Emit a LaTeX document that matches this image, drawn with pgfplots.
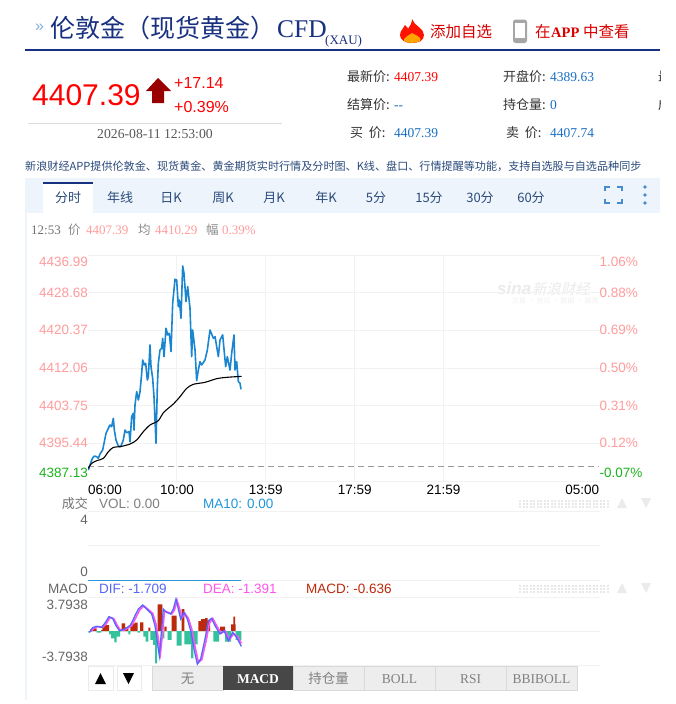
\documentclass[border=0pt]{standalone}
\usepackage{fontspec}
\usepackage{pgfplots}
\pgfplotsset{compat=1.18}
\setmainfont{Liberation Sans}
\newfontfamily\cjk{Noto Sans CJK SC}
\newfontfamily\ser{Liberation Serif}
\newcommand\fs[1]{\fontsize{#1}{#1}\selectfont}
\definecolor{navy}{HTML}{17307F}
\definecolor{gridc}{HTML}{F2F2F2}
\definecolor{sal}{HTML}{FF9C9C}
\definecolor{grn}{HTML}{1DB31D}
\definecolor{valb}{HTML}{1A6FC4}
\definecolor{tabt}{HTML}{2A4A7A}
\definecolor{tabbg}{HTML}{EEF4FB}
\definecolor{pricec}{HTML}{1A86D0}
\definecolor{barr}{HTML}{BB2A0C}
\definecolor{barg}{HTML}{33C29B}
\definecolor{difc}{HTML}{5566FF}
\definecolor{deac}{HTML}{FF55EE}
\newcommand\up[2]{\raisebox{#1}[0pt][0pt]{#2}}
\pgfplotsset{common/.style={
  scale only axis, width=511.5pt, xmin=0, xmax=1381, anchor=south west,
  axis line style={draw=none}, major tick length=0pt, tick style={draw=none},
  grid style={line width=0.9pt, gridc},
  yticklabel style={inner sep=0pt, font=\fs{13.5}},
  xticklabel style={inner sep=0pt, font=\fs{13.5}, yshift=-4pt},
  ymajorgrids}}
\begin{document}
\begin{tikzpicture}
\useasboundingbox (0pt,0pt) rectangle (675pt,-704pt);
\fill[white] (0pt,0pt) rectangle (675pt,-704pt);
\begin{scope}[x=1pt,y=-1pt]
% header
\fill[navy] (25,49) rectangle (660,51.2);
\node[anchor=base west,inner sep=0,text=valb!55,font=\fs{16}] at (35,31) {»};
\node[anchor=base west,inner sep=0,text=navy,font=\cjk\fs{25}] at (50,37) {伦敦金（现货黄金）};
\node[anchor=base west,inner sep=0,text=navy,font=\ser\fs{25.5}] at (277,37) {CFD};
\node[anchor=base west,inner sep=0,text=navy,font=\ser\fs{13}] at (325,44) {(XAU)};
% flame
\fill[red!85!orange] (412,19) .. controls (414,26) and (424,28) .. (424,35) .. controls (424,41) and (418,43) .. (412,43) .. controls (405,43) and (400,40) .. (400,35) .. controls (400,30) and (404,29) .. (405,25) .. controls (407,27) and (408,28) .. (408,29) .. controls (410,26) and (412,23) .. (412,19) -- cycle;
\fill[orange!70!yellow] (412,33) .. controls (418,36) and (422,38) .. (420,41) .. controls (416,43.5) and (408,43.5) .. (404,41) .. controls (403,38) and (408,36) .. (412,33) -- cycle;
\node[anchor=base west,inner sep=0,text=red!85!black,font=\cjk\fs{15.5}] at (430,37) {添加自选};
\fill[gray!70,rounded corners=2.5pt] (513,19.5) rectangle (527,43);
\fill[white] (515,23) rectangle (525,38);
\node[anchor=base west,inner sep=0,text=red!85!black,font=\cjk\fs{15.5}] at (535,37) {在};
\node[anchor=base west,inner sep=0,text=red!85!black,font=\ser\bfseries\fs{14.5}] at (551,37) {APP};
\node[anchor=base west,inner sep=0,text=red!85!black,font=\cjk\fs{15.5}] at (583,37) {中查看};
% quote
\node[anchor=base west,inner sep=0,text=red,font=\fs{30}] at (32,105) {4407.39};
\fill[red!60!black] (158,78) -- (171,91) -- (164,91) -- (164,103) -- (152,103) -- (152,91) -- (146,91) -- cycle;
\node[anchor=base west,inner sep=0,text=red,font=\fs{16}] at (174,88) {+17.14};
\node[anchor=base west,inner sep=0,text=red,font=\fs{16}] at (174,112) {+0.39\%};
\fill[tabbg!80!gray] (28,122.5) rectangle (282,124);
\node[anchor=base west,inner sep=0,text=black!65,font=\ser\fs{13.7}] at (97,138) {2026-08-11 12:53:00};
% stats
\newcommand\stat[5]{\node[anchor=base west,inner sep=0,font=\cjk\fs{13},text=black!80] at (#1,#2) {#3};
  \node[anchor=base west,inner sep=0,font=\ser\fs{13.5},text=#5] at (#1+47,#2) {#4};}
\stat{347}{81}{最新价:}{4407.39}{red}
\stat{503}{81}{开盘价:}{4389.63}{valb}
\stat{347}{109}{结算价:}{{-}{-}}{valb}
\stat{503}{109}{持仓量:}{0}{valb}
\stat{347}{137}{\ 买\ \ 价:}{4407.39}{valb}
\stat{503}{137}{\ 卖\ \ 价:}{4407.74}{valb}
\begin{scope}
\clip (657.5,60) rectangle (660.5,115);
\node[anchor=base west,inner sep=0,font=\cjk\fs{13},text=black!80] at (658,81) {最};
\node[anchor=base west,inner sep=0,font=\cjk\fs{13},text=black!80] at (658,109) {成};
\end{scope}
\node[anchor=base west,inner sep=0,text=tabt,font=\cjk\fs{11.1}] at (25,170) {新浪财经APP提供伦敦金、现货黄金、黄金期货实时行情及分时图、K线、盘口、行情提醒等功能，支持自选股与自选品种同步};
% tabs
\fill[tabbg] (25,178) rectangle (660,213);
\fill[white] (43,182) rectangle (93,214);
\fill[navy] (43,181.5) rectangle (93,183.5);
\fill[tabbg] (25,213) rectangle (26.5,700);
\foreach \x/\t in {68/分时,120/年线,171/日K,223/周K,274/月K,326/年K,376/5分,429/15分,480/30分,531/60分}
  \node[anchor=base,inner sep=0,text=tabt,font=\cjk\fs{13}] at (\x,202) {\t};
\draw[line width=2pt,valb!80] (605,191) -- (605,187) -- (610,187) (617,187) -- (622,187) -- (622,191) (622,199) -- (622,203) -- (617,203) (610,203) -- (605,203) -- (605,199);
\foreach \y in {187,195,203} \fill[valb!80] (645,\y) circle (1.8);
% info line
\node[anchor=base west,inner sep=0,text=black!55,font=\ser\fs{13}] at (31,234) {12:53};
\foreach \x/\t in {68/价,138/均,206/幅}
  \node[anchor=base west,inner sep=0,text=black!45,font=\cjk\fs{12.5}] at (\x,234) {\t};
\foreach \x/\t in {86/4407.39,155/4410.29,222/0.39\%}
  \node[anchor=base west,inner sep=0,text=sal,font=\ser\fs{13}] at (\x,234) {\t};
% watermark
\node[anchor=base west,inner sep=0,text=black!8,font=\bfseries\itshape\fs{17}] at (497,294) {sina};
\node[anchor=base west,inner sep=0,text=black!8,font=\cjk\fs{14.5},xslant=0.2] at (532,294) {新浪财经};
\node[anchor=base west,inner sep=0,text=black!6,font=\cjk\fs{7}] at (512,303) {交易 · 资讯 · 数据 · 服务};
% panel captions
\node[anchor=base east,inner sep=0,text=black!55,font=\cjk\fs{13}] at (88,508) {成交};
\node[anchor=base west,inner sep=0,text=black!50,font=\fs{13.5}] at (99,508) {VOL: 0.00};
\node[anchor=base west,inner sep=0,text=cyan!75!blue!90,font=\fs{13.5}] at (203,508) {MA10: 0.00};
\node[anchor=base east,inner sep=0,text=black!60,font=\fs{13.5}] at (88,593) {MACD};
\node[anchor=base west,inner sep=0,text=difc,font=\fs{13.5}] at (99,593) {DIF: -1.709};
\node[anchor=base west,inner sep=0,text=deac,font=\fs{13.5}] at (203,593) {DEA: -1.391};
\node[anchor=base west,inner sep=0,text=barr,font=\fs{13.5}] at (306,593) {MACD: -0.636};
% resize handles
\foreach \yy in {503,588} {
  \foreach \x in {519,522.5,...,607} {\fill[black!9] (\x,\yy-3.5) rectangle ++(2,2); \fill[black!9] (\x,\yy-.5) rectangle ++(2,2); \fill[black!9] (\x,\yy+2.5) rectangle ++(2,2);}
  \fill[black!8] (622,\yy-5) -- (627,\yy+5) -- (617,\yy+5) -- cycle;
  \fill[black!8] (646,\yy+5) -- (651,\yy-5) -- (641,\yy-5) -- cycle;
}
% bottom controls
\draw[black!8,fill=white] (88,666) rectangle (113,690) (117,666) rectangle (141,690);
\fill[black] (100.5,673) -- (106,684) -- (95,684) -- cycle;
\fill[black] (128.5,684) -- (134,673) -- (123,673) -- cycle;
\foreach \a/\b/\t in {152/223/无,293/364/持仓量}{
  \draw[black!15,fill=black!7,line width=1pt] (\a,666) rectangle (\b,690);
  \node[anchor=base,inner sep=0,text=black!50,font=\cjk\fs{13.5}] at ({(\a+\b)/2},683) {\t};}
\foreach \a/\b/\t in {364/435/BOLL,435/506/RSI,506/577/BBIBOLL}{
  \draw[black!15,fill=black!7,line width=1pt] (\a,666) rectangle (\b,690);
  \node[anchor=base,inner sep=0,text=black!50,font=\ser\fs{13.5}] at ({(\a+\b)/2},683) {\t};}
\fill[black!72] (223,666) rectangle (293,690);
\node[anchor=base,inner sep=0,text=white,font=\ser\bfseries\fs{13.5}] at (258,683) {MACD};
\end{scope}

% price axis
\begin{axis}[common, at={(88pt,-481pt)}, height=226pt,
  ymin=4387.13, ymax=4436.99,
  ytick={4387.13,4395.44,4403.75,4412.06,4420.37,4428.68,4436.99},
  yticklabels={\textcolor{grn}{\up{3.2pt}{4387.13}},4395.44,4403.75,4412.06,4420.37,4428.68,\up{-11.8pt}{4436.99}},
  yticklabel style={text=sal},
  xtick={240,480,720,960}, xticklabels={10:00,13:59,17:59,21:59}, xmajorgrids,
  extra x ticks={0,1380},
  extra x tick labels={\makebox[0pt][l]{06:00},\makebox[0pt][r]{05:00}},
  extra x tick style={grid=none}]
\addplot[black!40,dashed,line width=0.9pt,dash pattern=on 6pt off 4pt,forget plot] coordinates {(0,4390.25) (1380,4390.25)};
\addplot[pricec,line width=1.6pt,line join=round] coordinates {
(0.9,4389.55)(5.4,4390.65)(11.7,4392.12)(17.1,4392.64)(23.4,4392.49)(27.9,4392.12)(32.4,4393.08)(39.6,4393.96)(43.2,4395.43)(48.6,4397.64)(54.9,4398.75)(59.4,4399.48)(63.9,4399.11)(68.4,4400.95)(71.1,4398.38)(75.6,4396.17)(81.9,4394.84)(88.2,4394.70)(95.4,4396.17)(99.9,4398.38)(104.4,4397.79)(110.7,4398.01)(113.4,4395.80)(117.9,4401.32)(122.4,4402.06)(124.2,4398.38)(126.9,4403.90)(131.4,4406.84)(135.9,4405.00)(140.4,4406.84)(144.9,4410.89)(147.6,4413.83)(152.1,4412.73)(155.7,4413.09)(160.2,4409.41)(162.9,4410.15)(167.4,4417.14)(170.1,4412.36)(174.6,4409.78)(178.2,4405.73)(183.6,4395.43)(187.2,4407.94)(189.9,4413.09)(194.4,4416.04)(198.9,4416.40)(201.6,4418.61)(205.2,4414.56)(210.6,4420.82)(215.1,4419.35)(219.6,4419.71)(224.1,4415.67)(228.6,4426.34)(234.9,4431.63)(239.4,4431.49)(243.9,4425.60)(246.6,4427.07)(251.1,4423.03)(255.6,4434.58)(259.2,4432.96)(264.6,4426.71)(269.1,4430.02)(275.4,4425.23)(279.9,4414.56)(282.6,4420.45)(288.9,4416.04)(293.4,4409.27)(297.9,4411.62)(302.4,4413.46)(306.9,4412.73)(315.9,4413.83)(322.2,4416.04)(329.4,4420.45)(338.4,4418.61)(342.9,4418.98)(351.9,4414.56)(356.4,4418.24)(363.6,4419.35)(371.7,4412.36)(376.2,4414.56)(383.4,4411.62)(387.9,4415.30)(394.2,4419.35)(396.9,4411.62)(401.4,4413.46)(405.9,4409.05)(410.4,4408.68)(413.1,4407.35)};
\addplot[black,line width=1.1pt,smooth] coordinates {
(0.9,4389.92)(9.9,4391.02)(23.4,4391.61)(41.4,4392.12)(54.9,4393.59)(68.4,4394.55)(86.4,4394.70)(113.4,4395.29)(131.4,4396.17)(149.4,4398.01)(167.4,4399.48)(189.9,4400.44)(203.4,4402.20)(230.4,4404.12)(248.4,4405.73)(266.4,4407.57)(284.4,4408.46)(315.9,4408.90)(347.4,4409.71)(374.4,4410.00)(414.9,4410.22)};
\end{axis}
% percent axis
\begin{axis}[common, at={(88pt,-481pt)}, height=226pt,
  ymin=-0.0711, ymax=1.0646, xtick=\empty, ymajorgrids=false,
  yticklabel pos=right,
  ytick={-0.0711,0.1182,0.3075,0.4968,0.6861,0.8754,1.0646},
  yticklabels={\textcolor{grn}{\up{3.2pt}{-0.07\%}},0.12\%,0.31\%,0.50\%,0.69\%,0.88\%,\up{-11.8pt}{1.06\%}},
  yticklabel style={text=sal}]
\addplot[draw=none,forget plot] coordinates {(0,0)(1380,0)};
\end{axis}
% volume axis
\begin{axis}[common, at={(88pt,-580pt)}, height=68.5pt,
  ymin=0, ymax=4, ytick={0,2,4},
  yticklabels={\up{3.2pt}{0},,\up{-12.8pt}{4}},
  yticklabel style={text=black!60},
  xtick=\empty, clip=false]
\addplot[cyan!70!blue!85,line width=1pt] coordinates {(0,0)(414,0)};
\end{axis}
% MACD axis
\begin{axis}[common, at={(88pt,-665pt)}, height=68pt,
  ymin=-3.7938, ymax=3.7938, ytick={-3.7938,0,3.7938},
  yticklabels={\up{3.2pt}{-3.7938},,\up{-12.8pt}{3.7938}},
  yticklabel style={text=black!60},
  xtick=\empty]
\addplot[const plot,draw=none,fill=barr] coordinates {
(5.4,0.19)(11.7,0.30)(23.4,0)(35.1,0.11)(38.7,0.67)(56.7,0)(86.4,0.22)(90.9,0.86)(99.9,0.41)(108.9,0)(114.3,0.86)(126.9,0.93)(134.1,0)(140.4,0.97)(149.4,0)(162.9,0.37)(168.3,0)(188.1,2.97)(200.7,0)(206.1,0.48)(212.4,0)(225.9,1.71)(239.4,0)(252.9,2.45)(260.1,0)(297.9,1.10)(305.1,1.34)(315.9,1.45)(323.1,1.20)(329.4,0)(356.4,0.48)(369.9,0)(386.1,0.74)(392.4,1.60)(396.9,0.74)(398.7,0)} \closedcycle;
\addplot[const plot,draw=none,fill=barg] coordinates {
(0.9,-0.19)(5.4,0)(23.4,-0.19)(35.1,0)(56.7,-0.37)(62.1,-0.82)(71.1,-1.26)(77.4,-0.63)(86.4,0)(108.9,-0.37)(114.3,0)(134.1,-0.19)(140.4,0)(149.4,-0.63)(155.7,-1.19)(162.9,0)(168.3,-1.00)(175.5,-1.56)(180.9,-3.60)(186.3,-1.56)(188.1,0)(200.7,-0.82)(206.1,0)(215.1,-1.00)(225.9,0)(239.4,-1.63)(252.9,0)(260.1,-1.50)(278.1,-3.05)(284.4,-1.50)(296.1,0)(338.4,-1.19)(353.7,0)(369.9,-1.19)(386.1,0)(398.7,-1.00)(414,0)} \closedcycle;
\addplot[deac,line width=1.6pt] coordinates {
(6.6,-0.10)(15.6,0.30)(26.4,0.50)(39.9,0.42)(48.9,0.80)(59.7,1.50)(69.6,1.38)(78.6,0.65)(87.6,0.08)(98.4,0.12)(109.2,0.36)(118.2,0.60)(129.9,1.55)(138.9,2.30)(150.6,2.80)(161.4,2.45)(174.9,1.95)(183.9,0.75)(190.2,-0.95)(195.6,-2.50)(201.9,0)(206.4,2.20)(215.4,2.10)(226.2,1.90)(233.4,2.35)(240.6,3.40)(246.9,2.55)(253.2,1.45)(262.2,1.95)(271.2,1.40)(280.2,0.20)(289.2,-1.80)(298.2,-3.50)(307.2,-3.20)(318.9,-1.10)(327.9,0.90)(336.9,1.40)(345.9,0.70)(359.4,-0.25)(370.2,0)(381.9,-0.95)(393.6,-0.30)(404.4,-0.65)(414,-1.39)};
\addplot[difc,line width=1.3pt] coordinates {
(3.6,-0.15)(12.6,0.37)(23.4,0.52)(36.9,0.41)(45.9,0.89)(56.7,1.60)(66.6,1.41)(75.6,0.59)(84.6,0.04)(95.4,0.15)(106.2,0.41)(115.2,0.67)(126.9,1.71)(135.9,2.45)(147.6,2.90)(158.4,2.45)(171.9,1.90)(180.9,0.59)(187.2,-1.26)(192.6,-2.75)(198.9,0.22)(203.4,2.45)(212.4,2.08)(223.2,1.90)(230.4,2.45)(237.6,3.57)(243.9,2.45)(250.2,1.34)(259.2,2.08)(268.2,1.34)(277.2,0.04)(286.2,-2.01)(295.2,-3.69)(304.2,-3.12)(315.9,-0.89)(324.9,1.15)(333.9,1.41)(342.9,0.59)(356.4,-0.33)(367.2,0.04)(378.9,-1.08)(390.6,-0.15)(401.4,-0.71)(414,-1.71)};
\end{axis}
\end{tikzpicture}
\end{document}
